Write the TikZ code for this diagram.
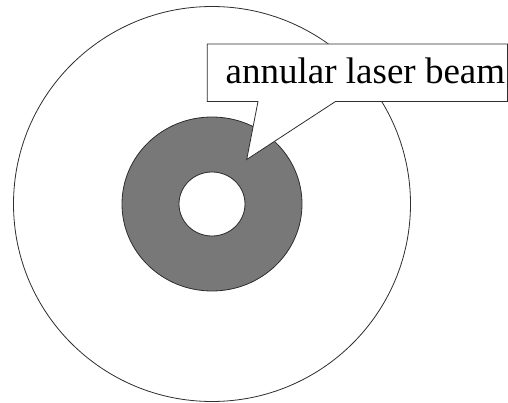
\documentclass[tikz,border=0pt]{standalone}
\usepackage{fontspec}
\setmainfont{Liberation Serif}
\usepackage{xcolor}
\usepackage{tikz}
\usetikzlibrary{
    positioning,
    calc
}
\definecolor{beamcolor}{HTML}{787878}
\definecolor{linecolor}{HTML}{2E2E2E}
\tikzset{
    aperture/.style={
        draw=linecolor, fill=white, line width=0.8pt
    },
    beam ring/.style={
        draw=linecolor, fill=beamcolor, line width=0.8pt,
        even odd rule
    },
    callout box/.style={
        draw=linecolor, fill=white, line width=0.8pt
    },
    callout text/.style={
        inner sep=0pt, anchor=base west,
        font=\fontsize{37}{40}\selectfont
    },
}

\begin{document}
\begin{tikzpicture}[x=1pt, y=-1pt]

    \useasboundingbox (0,0) rectangle (508,403);

    % ── Aperture and beam ──
    \coordinate (centre) at (212,204);
    \draw[aperture] (centre) ellipse [x radius=198.5, y radius=197.5];
    \draw[beam ring] (centre) ellipse [x radius=90, y radius=87]
                     (centre) ellipse [x radius=33, y radius=32];

    % ── Callout ──
    \coordinate (tip) at (246.7,159.5);
    \draw[callout box] (207.3,44) -- (507.5,44) -- (507.5,101.5)
        -- (335.5,101.5) -- (tip) -- (258,101.5) -- (207.3,101.5) -- cycle;
    \node[callout text] (beamlabel) at (225.5,83.3) {annular laser beam};

\end{tikzpicture}
\end{document}
